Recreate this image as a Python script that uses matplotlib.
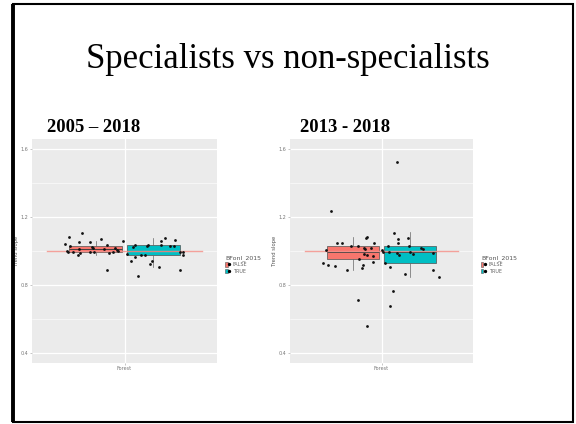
import numpy as np
import matplotlib
matplotlib.use('Agg')
import matplotlib.pyplot as plt
from matplotlib.patches import Patch, Rectangle
from matplotlib.lines import Line2D
from matplotlib.legend_handler import HandlerTuple

# Trend slopes per habitat specialism, two time windows
groups = ['FALSE', 'TRUE']
legend_title = 'BFonl_2015'
category = 'Forest'

# 2005 - 2018: jittered x (dodged) and trend slope
a_false_x = [0.615, 0.643, 0.647, 0.628, 0.636, 0.669, 0.697, 0.712, 0.708, 0.723, 0.708, 0.773, 0.773,
             0.790, 0.794, 0.799, 0.846, 0.870, 0.885, 0.885, 0.898, 0.924, 0.937, 0.950, 0.957, 0.989]
a_false_y = [1.041, 1.080, 1.027, 1.002, 0.996, 0.992, 0.976, 0.988, 1.012, 1.104, 1.055, 1.051, 0.992,
             1.022, 1.016, 0.992, 1.071, 1.012, 1.035, 0.890, 0.986, 0.996, 1.016, 1.008, 1.002, 1.059]
a_true_x = [1.017, 1.039, 1.054, 1.071, 1.069, 1.087, 1.110, 1.136, 1.147, 1.152, 1.167, 1.180, 1.221,
            1.234, 1.238, 1.264, 1.292, 1.318, 1.327, 1.357, 1.357, 1.379, 1.379]
a_true_y = [0.984, 0.941, 1.022, 1.033, 0.965, 0.853, 0.978, 0.978, 1.027, 1.033, 0.922, 0.941, 0.906,
            1.061, 1.035, 1.076, 1.027, 1.027, 1.063, 0.996, 0.888, 0.994, 0.976]
# box stats: whislo, q1, med, q3, whishi
a_box = {'FALSE': [0.976, 0.992, 1.012, 1.031, 1.061],
         'TRUE': [0.908, 0.976, 0.998, 1.035, 1.076]}

# 2013 - 2018
b_false_x = [0.666, 0.637, 0.615, 0.648, 0.694, 0.707, 0.738, 0.777, 0.799, 0.847, 0.849, 0.851, 0.873,
             0.880, 0.882, 0.886, 0.891, 0.899, 0.906, 0.906, 0.906, 0.930, 0.945, 0.952, 0.943, 1.000]
b_false_y = [1.237, 1.006, 0.931, 0.916, 0.910, 1.047, 1.047, 0.886, 1.031, 0.712, 1.027, 0.955, 0.902,
             0.920, 1.016, 0.980, 1.012, 1.076, 1.080, 0.976, 0.557, 1.016, 0.973, 1.047, 0.933, 1.006]
b_true_x = [1.007, 1.026, 1.042, 1.052, 1.055, 1.057, 1.074, 1.081, 1.101, 1.103, 1.105, 1.107, 1.118,
            1.151, 1.177, 1.181, 1.184, 1.208, 1.256, 1.273, 1.337, 1.339, 1.378]
b_true_y = [0.994, 0.929, 1.031, 0.994, 0.908, 0.678, 0.765, 1.108, 1.524, 0.990, 1.047, 1.071, 0.976,
            0.867, 1.076, 1.027, 0.992, 0.984, 1.020, 1.012, 0.888, 0.986, 0.845]
b_box = {'FALSE': [0.888, 0.953, 0.992, 1.029, 1.080],
         'TRUE': [0.845, 0.931, 0.996, 1.027, 1.110]}

ref_slope = 1.0
y_ticks = [0.4, 0.8, 1.2, 1.6]
y_minor = [0.6, 1.0, 1.4]

fills = {'FALSE': '#F8766D', 'TRUE': '#00BFC4'}
dodge = {'FALSE': 0.8125, 'TRUE': 1.1875}

fig = plt.figure(figsize=(5.76, 4.24), dpi=100)
fig.patch.set_facecolor('white')

# slide frame
fig.add_artist(Rectangle((13 / 576, 2 / 424), 560 / 576, 418 / 424, transform=fig.transFigure,
                         fill=False, edgecolor='black', linewidth=1.5, joinstyle='miter'))
fig.add_artist(Line2D([13 / 576, 13 / 576], [2 / 424, 420 / 424], transform=fig.transFigure,
                      color='black', linewidth=2.8, solid_capstyle='butt'))

fig.text(0.5, 1 - 60 / 424, 'Specialists vs non-specialists', ha='center', va='center',
         family='Liberation Serif', fontsize=25)
fig.text(47 / 576, 1 - 127 / 424, '2005 – 2018', ha='left', va='center',
         family='Liberation Serif', fontweight='bold', fontsize=13.4)
fig.text(300 / 576, 1 - 127 / 424, '2013 - 2018', ha='left', va='center',
         family='Liberation Serif', fontweight='bold', fontsize=13.4)


def panel(rect, fx, fy, tx, ty, box):
    ax = fig.add_axes(rect)
    ax.set_facecolor('#EBEBEB')
    for s in ax.spines.values():
        s.set_visible(False)
    ax.set_xlim(0.4, 1.6)
    ax.set_ylim(0.34, 1.66)
    for v in y_minor:
        ax.axhline(v, color='white', lw=0.4, zorder=0)
    for v in y_ticks:
        ax.axhline(v, color='white', lw=0.9, zorder=0)
    ax.axvline(1, color='white', lw=0.9, zorder=0)

    stats = []
    for g in groups:
        lo, q1, med, q3, hi = box[g]
        stats.append(dict(whislo=lo, q1=q1, med=med, q3=q3, whishi=hi, fliers=[]))
    bp = ax.bxp(stats, positions=[dodge[g] for g in groups], widths=0.34, patch_artist=True,
                showcaps=False, manage_ticks=False,
                boxprops=dict(edgecolor='#505050', linewidth=0.5),
                medianprops=dict(color='#404040', linewidth=0.7),
                whiskerprops=dict(color='#666666', linewidth=0.5))
    for patch, g in zip(bp['boxes'], groups):
        patch.set_facecolor(fills[g])
        patch.set_zorder(2)

    ax.plot([0.5, 1.5], [ref_slope, ref_slope], color='#F4928B', lw=1.0, alpha=0.85, zorder=3)
    ax.plot(fx, fy, 'o', color='#111111', ms=2.0, mew=0, zorder=4)
    ax.plot(tx, ty, 'o', color='#111111', ms=2.0, mew=0, zorder=4)

    ax.set_xticks([1])
    ax.set_xticklabels([category])
    ax.set_yticks(y_ticks)
    ax.set_yticklabels([f'{v:.1f}' for v in y_ticks])
    ax.tick_params(length=1.5, width=0.4, color='#999999', labelsize=3.5, labelcolor='#777777', pad=1)
    ax.set_ylabel('Trend slope', fontsize=3.8, color='#555555', labelpad=1)

    handles = [(Patch(facecolor=fills[g], edgecolor='#555555', linewidth=0.4),
                Line2D([], [], marker='o', ls='', color='black', ms=1.4)) for g in groups]
    leg = ax.legend(handles, groups, title=legend_title, handler_map={tuple: HandlerTuple(ndivide=None, pad=0)},
                    loc='center left', bbox_to_anchor=(1.02, 0.44), frameon=False,
                    fontsize=3.5, title_fontsize=4.5, handlelength=1.0, handleheight=1.0,
                    handletextpad=0.6, labelspacing=0.3)
    leg._legend_box.align = 'left'
    leg.get_title().set_color('#555555')
    for t in leg.get_texts():
        t.set_color('#666666')
    return ax


panel([32 / 576, 1 - 363 / 424, 185 / 576, 224 / 424], a_false_x, a_false_y, a_true_x, a_true_y, a_box)
panel([290 / 576, 1 - 363 / 424, 183 / 576, 224 / 424], b_false_x, b_false_y, b_true_x, b_true_y, b_box)

fig.savefig('out.png', dpi=100)
